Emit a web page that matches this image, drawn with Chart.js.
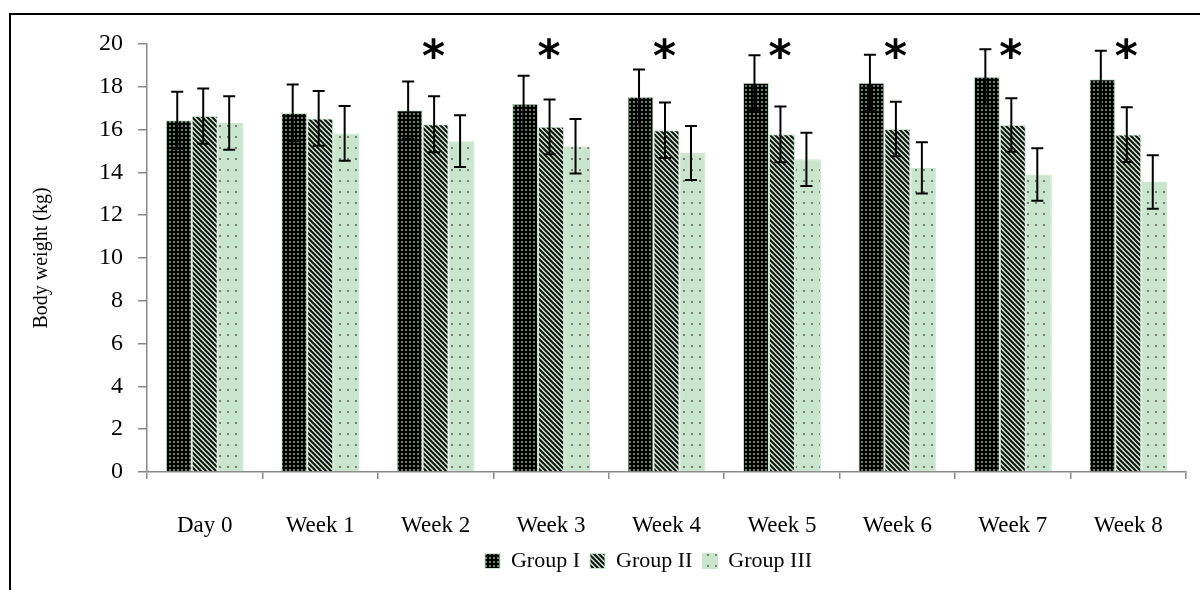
<!DOCTYPE html>
<html><head><meta charset="utf-8">
<script src="https://cdn.jsdelivr.net/npm/chart.js@4.4.1/dist/chart.umd.min.js"></script>
<style>
html,body{margin:0;padding:0;background:#fff;}
#wrap{position:relative;width:1200px;height:590px;overflow:hidden;background:#fff;}
#frame{position:absolute;left:9px;top:13px;width:1300px;height:700px;border:2px solid #000;box-sizing:border-box;pointer-events:none;}
canvas{position:absolute;left:0;top:0;}
</style></head><body>
<div id="wrap"><canvas id="c" width="1200" height="590"></canvas><div id="frame"></div></div>
<script>
const categories = ['Day 0','Week 1','Week 2','Week 3','Week 4','Week 5','Week 6','Week 7','Week 8'];
const seriesNames = ['Group I','Group II','Group III'];
const group1 = [16.44, 16.78, 16.91, 17.21, 17.53, 18.19, 18.19, 18.47, 18.35];
const group2 = [16.63, 16.52, 16.25, 16.13, 15.97, 15.78, 16.03, 16.21, 15.77];
const group3 = [16.31, 15.82, 15.46, 15.22, 14.91, 14.61, 14.21, 13.90, 13.55];
const sd1 = [1.33, 1.33, 1.34, 1.31, 1.28, 1.29, 1.31, 1.28, 1.34];
const sd2 = [1.29, 1.28, 1.31, 1.28, 1.30, 1.30, 1.27, 1.25, 1.28];
const sd3 = [1.25, 1.28, 1.21, 1.27, 1.26, 1.24, 1.20, 1.23, 1.25];
const significant = [false, false, true, true, true, true, true, true, true];
const yTicks = [0,2,4,6,8,10,12,14,16,18,20];

const GREEN = '#c9e6cc';
const FONT = '"Liberation Serif", "Times New Roman", serif';
const mainCtx = document.getElementById('c').getContext('2d');
function makePattern(w, h, draw){
  const c = document.createElement('canvas'); c.width = w; c.height = h;
  const g = c.getContext('2d'); draw(g, w, h);
  return mainCtx.createPattern(c, 'repeat');
}
const pat1 = makePattern(4, 4, (g)=>{ g.fillStyle='#040404'; g.fillRect(0,0,4,4); g.fillStyle='#62806a'; g.fillRect(1,1,2,2); });
const pat2 = makePattern(5, 5, (g)=>{ g.fillStyle=GREEN; g.fillRect(0,0,5,5); g.strokeStyle='#111'; g.lineWidth=2;
  g.beginPath(); for(const x0 of [-5,0,5]){ g.moveTo(x0-1,-1); g.lineTo(x0+6,6); } g.stroke(); });
const pat3 = makePattern(8, 11, (g)=>{ g.fillStyle=GREEN; g.fillRect(0,0,8,11); g.fillStyle='#4a4a4a'; g.beginPath(); g.arc(4,5,0.9,0,Math.PI*2); g.fill(); });

const values = [group1, group2, group3];
const errors = [sd1, sd2, sd3];
const patterns = [pat1, pat2, pat3];

const errPlugin = {
  id: 'errbars',
  afterDatasetsDraw(chart){
    const ctx = chart.ctx, ys = chart.scales.y;
    ctx.save(); ctx.strokeStyle = '#000'; ctx.lineWidth = 2;
    chart.data.datasets.forEach((ds, i)=>{
      const meta = chart.getDatasetMeta(i);
      meta.data.forEach((bar, j)=>{
        const v = ds.data[j], e = errors[i][j];
        const top = ys.getPixelForValue(v + e), bot = ys.getPixelForValue(v - e);
        const x = bar.x - 1.5;
        ctx.beginPath();
        ctx.moveTo(x, top); ctx.lineTo(x, bot);
        ctx.moveTo(x - 6, top); ctx.lineTo(x + 6, top);
        ctx.moveTo(x - 6, bot); ctx.lineTo(x + 6, bot);
        ctx.stroke();
      });
    });
    ctx.restore();
  }
};
const starPlugin = {
  id: 'stars',
  afterDraw(chart){
    const ctx = chart.ctx, xs = chart.scales.x, ys = chart.scales.y;
    ctx.save();
    ctx.font = 'bold 44px "DejaVu Sans"';
    ctx.fillStyle = '#000'; ctx.textAlign = 'center'; ctx.textBaseline = 'alphabetic';
    const m = ctx.measureText('*');
    const cy = ys.getPixelForValue(ys.max) + 4;
    const base = cy + (m.actualBoundingBoxAscent - m.actualBoundingBoxDescent) / 2;
    significant.forEach((s, j)=>{
      if (!s) return;
      ctx.fillText('*', xs.getPixelForValue(j) - 2, base);
    });
    ctx.restore();
  }
};
const legendShift = {
  id: 'legendShift',
  afterLayout(chart){
    const lg = chart.legend; if (!lg) return;
    lg.left -= 18; lg.right -= 18;
  }
};

Chart.defaults.font.family = FONT;
Chart.defaults.color = '#000';

new Chart(mainCtx, {
  type: 'bar',
  data: {
    labels: categories,
    datasets: values.map((vals, i)=>({
      label: seriesNames[i],
      data: vals,
      backgroundColor: patterns[i],
      borderColor: GREEN,
      borderWidth: 1,
      barPercentage: 1.0,
      categoryPercentage: 0.675
    }))
  },
  options: {
    responsive: false,
    animation: false,
    devicePixelRatio: 1,
    layout: { padding: { left: 0, right: 14, top: 44, bottom: 8 } },
    plugins: {
      legend: {
        position: 'bottom',
        fullSize: false,
        labels: { font: { size: 22, family: FONT }, color: '#000', boxWidth: 15, boxHeight: 15, padding: 10 }
      },
      tooltip: { enabled: false }
    },
    scales: {
      x: {
        offset: true,
        grid: { offset: true, drawOnChartArea: false, drawTicks: true, tickLength: 7, color: '#898989', lineWidth: 1.5 },
        border: { color: '#898989', width: 1.5 },
        ticks: { font: { size: 23, family: FONT }, color: '#000', padding: 33, maxRotation: 0 },
        afterFit(s){ s.height = 68; }
      },
      y: {
        min: 0, max: 20,
        afterBuildTicks(s){ s.ticks = yTicks.map(v=>({value: v})); },
        grid: { drawOnChartArea: false, drawTicks: true, tickLength: 9, color: '#898989', lineWidth: 1.5 },
        border: { color: '#898989', width: 1.5 },
        ticks: { font: { size: 24, family: FONT }, color: '#000', padding: 15 },
        title: { display: true, text: 'Body weight (kg)', font: { size: 20, family: FONT }, color: '#000', padding: { top: 30, bottom: 0 } },
        afterFit(s){ s.width = 147; }
      }
    }
  },
  plugins: [errPlugin, starPlugin, legendShift]
});
</script>
</body></html>
